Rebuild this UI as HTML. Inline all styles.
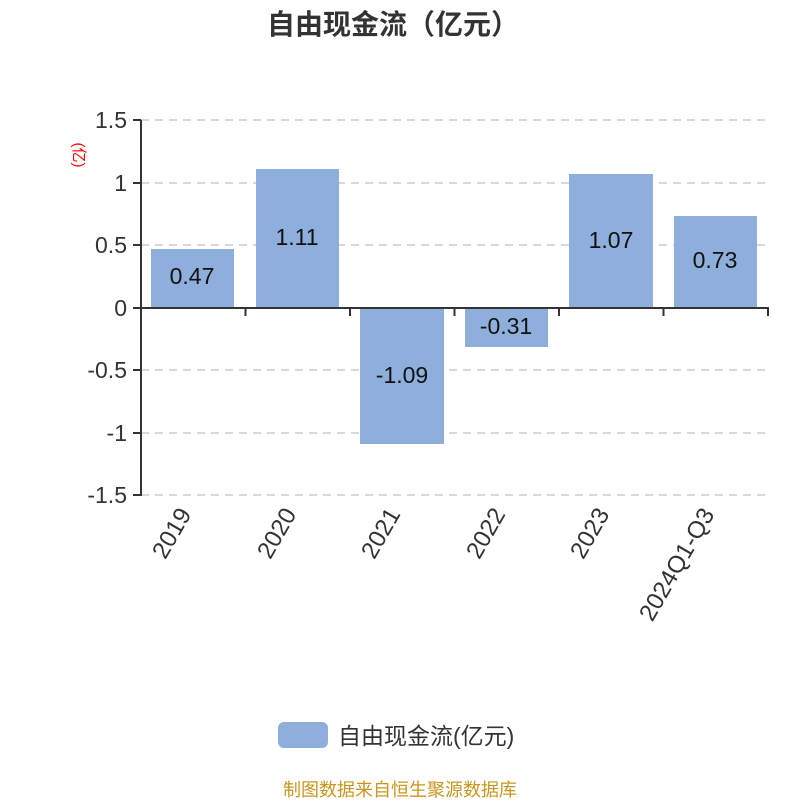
<!DOCTYPE html>
<html><head><meta charset="utf-8"><style>body{margin:0;background:#fff}</style></head><body>
<svg width="800" height="800" xmlns="http://www.w3.org/2000/svg" font-family="'Liberation Sans','Noto Sans CJK SC',sans-serif">
<text x="393" y="34" text-anchor="middle" font-size="28" font-weight="bold" fill="#333">自由现金流（亿元）</text>
<g stroke="#ccc" stroke-dasharray="8,6" stroke-width="1.5">
<line x1="141" y1="120" x2="768" y2="120"/><line x1="141" y1="183" x2="768" y2="183"/><line x1="141" y1="245" x2="768" y2="245"/><line x1="141" y1="370" x2="768" y2="370"/><line x1="141" y1="433" x2="768" y2="433"/><line x1="141" y1="495" x2="768" y2="495"/>
</g>
<g fill="#8eaedb">
<rect x="151" y="249" width="83" height="59"/>
<rect x="256" y="169" width="83" height="139"/>
<rect x="360" y="308" width="84" height="136"/>
<rect x="465" y="308" width="83" height="39"/>
<rect x="569" y="174" width="84" height="134"/>
<rect x="674" y="216" width="83" height="92"/>
</g>
<g stroke="#333" stroke-width="2" fill="none">
<line x1="141" y1="120" x2="141" y2="496"/>
<line x1="133" y1="120" x2="141" y2="120"/><line x1="133" y1="183" x2="141" y2="183"/><line x1="133" y1="245" x2="141" y2="245"/><line x1="133" y1="308" x2="141" y2="308"/><line x1="133" y1="370" x2="141" y2="370"/><line x1="133" y1="433" x2="141" y2="433"/><line x1="133" y1="495" x2="141" y2="495"/>
<line x1="141" y1="308" x2="769" y2="308"/>
<line x1="245.5" y1="308" x2="245.5" y2="316"/><line x1="350" y1="308" x2="350" y2="316"/><line x1="454.5" y1="308" x2="454.5" y2="316"/><line x1="559" y1="308" x2="559" y2="316"/><line x1="663.5" y1="308" x2="663.5" y2="316"/><line x1="768" y1="308" x2="768" y2="316"/>
</g>
<g font-size="23" fill="#333" text-anchor="end">
<text x="127" y="128">1.5</text><text x="127" y="191">1</text><text x="127" y="253">0.5</text><text x="127" y="316">0</text><text x="127" y="378">-0.5</text><text x="127" y="441">-1</text><text x="127" y="503">-1.5</text>
</g>
<text transform="translate(74,155) rotate(90)" text-anchor="middle" font-size="15" fill="#f00">(亿)</text>
<g font-size="23" fill="#111" text-anchor="middle">
<text x="192" y="284">0.47</text><text x="297" y="245">1.11</text><text x="402" y="383">-1.09</text><text x="506" y="334">-0.31</text><text x="611" y="248">1.07</text><text x="715" y="268">0.73</text>
</g>
<g font-size="24" fill="#333" text-anchor="end">
<text transform="translate(192,514) rotate(-60)">2019</text>
<text transform="translate(297,514) rotate(-60)">2020</text>
<text transform="translate(401,514) rotate(-60)">2021</text>
<text transform="translate(506,514) rotate(-60)">2022</text>
<text transform="translate(610,514) rotate(-60)">2023</text>
<text transform="translate(715,514) rotate(-60)">2024Q1-Q3</text>
</g>
<rect x="278" y="722" width="50" height="26" rx="6" fill="#8eaedb"/>
<text x="338" y="744" font-size="23" fill="#333">自由现金流(亿元)</text>
<text x="400" y="796" text-anchor="middle" font-size="18" fill="#c8961e">制图数据来自恒生聚源数据库</text>
</svg>
</body></html>
